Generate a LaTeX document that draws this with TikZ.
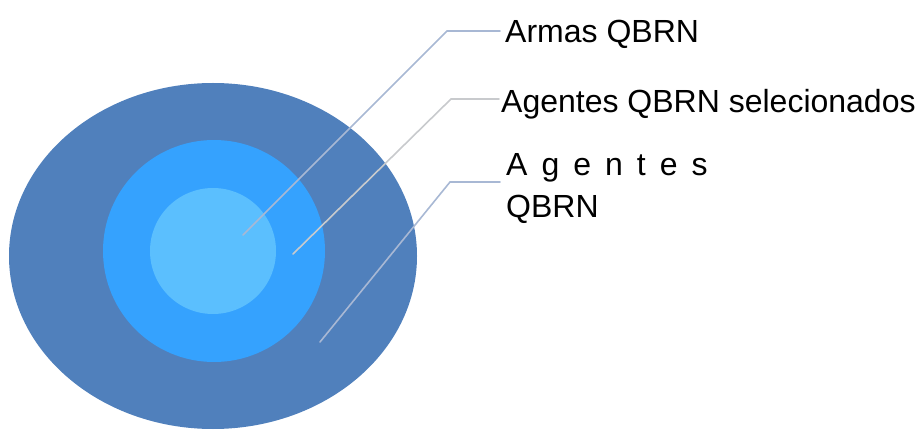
\documentclass[tikz,border=0pt]{standalone}
\usepackage{fontspec}
\setmainfont{Liberation Sans}
\definecolor{outerblue}{HTML}{5080BC}
\definecolor{midblue}{HTML}{35A2FE}
\definecolor{innerblue}{HTML}{5BBFFE}
\definecolor{leadA}{HTML}{A8B8D4}
\definecolor{leadB}{HTML}{C8CACD}
\begin{document}
\begin{tikzpicture}[x=1pt,y=-1pt,
  lbl/.style={inner sep=0pt,anchor=base west,font=\fontsize{32}{42}\selectfont,text=black},
  lead/.style={line width=1.6pt,line cap=round}]
\useasboundingbox (0,0) rectangle (923,430);
\fill[outerblue] (213,256) ellipse [x radius=204, y radius=173];
\fill[midblue] (214,251) circle [radius=111];
\fill[innerblue] (213,251) circle [radius=63];
% labels
\node[lbl] (armas) at (505,43) {Armas QBRN};
\node[lbl] (sel) at (501,113) {Agentes QBRN selecionados};
\node[lbl,align=left,anchor=north west] (ag) at (506,153) {{\spaceskip=14pt A g e n t e s}\\QBRN};
% connector points
\coordinate (p1) at (243,235);
\coordinate (e1) at (447,31);
\coordinate (h1) at (500,31);
\coordinate (p2) at (293,254);
\coordinate (e2) at (451,99);
\coordinate (h2) at (499,99);
\coordinate (p3) at (320,342);
\coordinate (e3) at (450,182);
\coordinate (h3) at (500,182);
\draw[lead,leadA] (p1) -- (e1) -- (h1);
\draw[lead,leadB] (p2) -- (e2) -- (h2);
\draw[lead,leadA] (p3) -- (e3) -- (h3);
\end{tikzpicture}
\end{document}
